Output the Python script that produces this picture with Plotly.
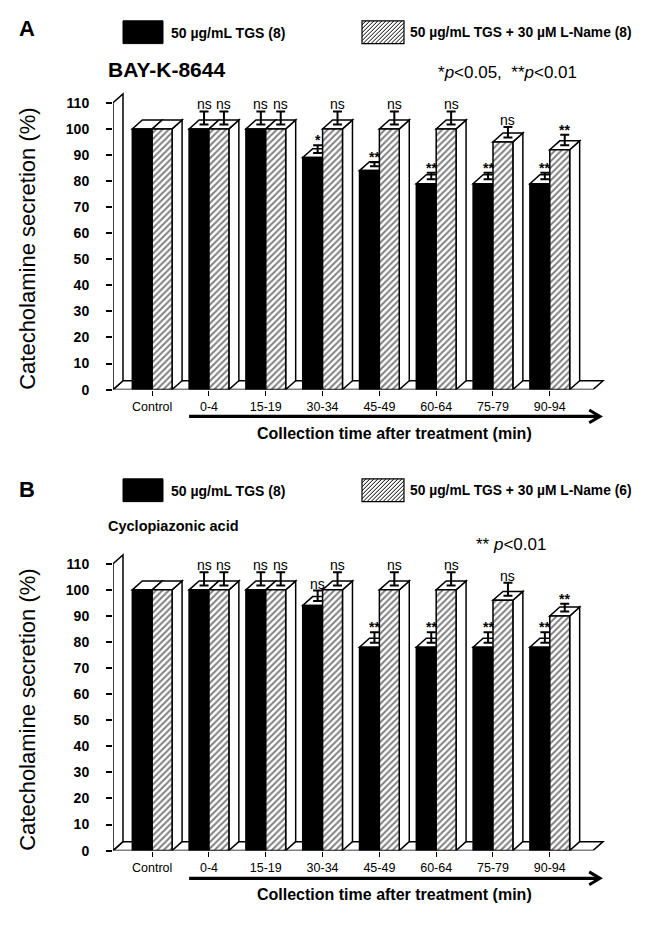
import plotly.graph_objects as go

# ---------------- data ----------------
categories = ["Control", "0-4", "15-19", "30-34", "45-49", "60-64", "75-79", "90-94"]

a_tgs = [100, 100, 100, 89, 84, 79, 79, 79]
a_tgs_err = [0, 5, 5, 3, 1.5, 2.5, 2.5, 2.5]
a_tgs_sig = ["", "ns", "ns", "*", "**", "**", "**", "**"]
a_lname = [100, 100, 100, 100, 100, 100, 95, 92]
a_lname_err = [0, 5, 5, 5, 5, 5, 4, 4]
a_lname_sig = ["", "ns", "ns", "ns", "ns", "ns", "ns", "**"]

b_tgs = [100, 100, 100, 94, 78, 78, 78, 78]
b_tgs_err = [0, 5, 5, 4, 4, 4, 4, 4]
b_tgs_sig = ["", "ns", "ns", "ns", "**", "**", "**", "**"]
b_lname = [100, 100, 100, 100, 100, 100, 96, 90]
b_lname_err = [0, 5, 5, 5, 5, 5, 5, 3]
b_lname_sig = ["", "ns", "ns", "ns", "ns", "ns", "ns", "**"]

yticks = [0, 10, 20, 30, 40, 50, 60, 70, 80, 90, 100, 110]

legend_tgs = ["50 µg/mL TGS (8)", "50 µg/mL TGS (8)"]
legend_lname = ["50 µg/mL TGS + 30 µM L-Name (8)", "50 µg/mL TGS + 30 µM L-Name (6)"]
panel_titles = ["BAY-K-8644", "Cyclopiazonic acid"]
panel_notes = ["*<i>p</i><0.05,  **<i>p</i><0.01", "** <i>p</i><0.01"]
panel_letters = ["A", "B"]
ytitle = "Catecholamine secretion (%)"
xtitle = "Collection time after treatment (min)"

# ---------------- geometry / style ----------------
W, H = 649, 927
FONT = "Liberation Sans, Arial, Helvetica, sans-serif"
X_LO, X_HI = -0.69, 7.98
PXX = 56.8                      # px per category unit
X_LEFT_PX = 113
X_RIGHT_PX = X_LEFT_PX + (X_HI - X_LO) * PXX
Y_HI = 115
PXY = 2.63                      # px per y unit
DX = 10 / PXX                   # 3-D depth in x units
DY = 9 / PXY                    # 3-D depth in y units
BW = 0.35                       # bar width
FLOOR_END = X_LO + (593 - X_LEFT_PX) / PXX

panels = [
    dict(zero_px=393, tgs=a_tgs, tgs_err=a_tgs_err, tgs_sig=a_tgs_sig,
         ln=a_lname, ln_err=a_lname_err, ln_sig=a_lname_sig,
         leg_y=33, title_y=70, note_y=73, note_x=436, letter_y=29, arrow_y=420, xt_y=437,
         ytitle_y=251),
    dict(zero_px=858, tgs=b_tgs, tgs_err=b_tgs_err, tgs_sig=b_tgs_sig,
         ln=b_lname, ln_err=b_lname_err, ln_sig=b_lname_sig,
         leg_y=495, title_y=531, note_y=549, note_x=474, letter_y=494, arrow_y=886, xt_y=902,
         ytitle_y=716),
]


def px2x(px):
    return px / W


def px2y(py):
    return 1 - py / H


fig = go.Figure()
shapes = []
annotations = []
line_style = dict(color="black", width=1.5)

for k, p in enumerate(panels):
    xa = "x" if k == 0 else "x2"
    ya = "y" if k == 0 else "y2"
    xs = [i for i in range(len(categories))]

    # bars
    fig.add_trace(go.Bar(x=xs, y=p["tgs"], xaxis=xa, yaxis=ya, width=BW, offset=-BW,
                         marker=dict(color="black", line=dict(color="black", width=1.5)),
                         showlegend=False, hoverinfo="skip"))
    fig.add_trace(go.Bar(x=xs, y=p["ln"], xaxis=xa, yaxis=ya, width=BW, offset=0,
                         marker=dict(color="white", line=dict(color="black", width=1.5),
                                     pattern=dict(shape="/", fgcolor="black", bgcolor="white",
                                                  size=4.5, solidity=0.45)),
                         showlegend=False, hoverinfo="skip"))

    # error bars at the centre of the top faces
    for vals, errs, off in ((p["tgs"], p["tgs_err"], -BW / 2), (p["ln"], p["ln_err"], BW / 2)):
        ex = [i + off + DX / 2 for i in xs[1:]]
        ey = [v + DY / 2 for v in vals[1:]]
        fig.add_trace(go.Scatter(x=ex, y=ey, xaxis=xa, yaxis=ya, mode="markers",
                                 marker=dict(size=1, color="rgba(0,0,0,0)"),
                                 error_y=dict(type="data", symmetric=False, array=errs[1:],
                                              arrayminus=[0] * (len(xs) - 1),
                                              width=4.5, thickness=2, color="black"),
                                 showlegend=False, hoverinfo="skip"))

    # significance labels
    for vals, errs, sigs, off in ((p["tgs"], p["tgs_err"], p["tgs_sig"], -BW / 2),
                                  (p["ln"], p["ln_err"], p["ln_sig"], BW / 2)):
        for i in xs[1:]:
            is_ns = sigs[i] == "ns"
            annotations.append(dict(x=i + off + DX / 2, y=vals[i] + DY / 2 + errs[i],
                                    xref=xa, yref=ya, text=sigs[i], showarrow=False,
                                    yanchor="bottom", yshift=-3 if is_ns else -5,
                                    font=dict(family=FONT, size=14,
                                              color="black",
                                              weight="normal" if is_ns else "bold")))

    # 3-D floor and back wall
    shapes.append(dict(type="path", xref=xa, yref=ya, layer="below",
                       path=f"M {X_LO},0 L {FLOOR_END},0 L {FLOOR_END + DX},{DY} L {X_LO + DX},{DY} Z",
                       fillcolor="white", line=line_style))
    shapes.append(dict(type="path", xref=xa, yref=ya, layer="below",
                       path=f"M {X_LO},0 L {X_LO},110 L {X_LO + DX},{110 + DY} L {X_LO + DX},{DY} Z",
                       fillcolor="white", line=line_style))

    # 3-D top and side faces of bars
    for i in xs:
        vb, vh = p["tgs"][i], p["ln"][i]
        b0, b1 = i - BW, i
        h0, h1 = i, i + BW
        shapes.append(dict(type="path", xref=xa, yref=ya, layer="below",
                           path=f"M {h1},0 L {h1},{vh} L {h1 + DX},{vh + DY} L {h1 + DX},{DY} Z",
                           fillcolor="white", line=line_style))
        shapes.append(dict(type="path", xref=xa, yref=ya, layer="below",
                           path=f"M {b0},{vb} L {b1},{vb} L {b1 + DX},{vb + DY} L {b0 + DX},{vb + DY} Z",
                           fillcolor="white", line=line_style))
        shapes.append(dict(type="path", xref=xa, yref=ya, layer="below",
                           path=f"M {h0},{vh} L {h1},{vh} L {h1 + DX},{vh + DY} L {h0 + DX},{vh + DY} Z",
                           fillcolor="white", line=line_style))

    # arrow under time categories
    ay = px2y(p["arrow_y"])
    tip = X_LO + (600 - X_LEFT_PX) / PXX
    shapes.append(dict(type="line", xref=xa, yref="paper", x0=1 - BW, x1=tip - 0.03, y0=ay, y1=ay,
                       line=dict(color="black", width=3.4)))
    hy = 6.5 / H
    shapes.append(dict(type="path", xref=xa, yref="paper",
                       path=f"M {tip - 0.19},{ay + hy} L {tip},{ay} L {tip - 0.19},{ay - hy}",
                       line=dict(color="black", width=3)))

    # legend boxes
    ly = p["leg_y"]
    by0, by1 = ly - 12, ly + 11
    shapes.append(dict(type="rect", xref="paper", yref="paper",
                       x0=px2x(123), x1=px2x(163), y0=px2y(by1), y1=px2y(by0),
                       fillcolor="black", line=dict(color="black", width=1)))
    hx0, hx1 = 362, 404
    shapes.append(dict(type="rect", xref="paper", yref="paper",
                       x0=px2x(hx0), x1=px2x(hx1), y0=px2y(by1), y1=px2y(by0),
                       fillcolor="white", line=dict(color="black", width=1.2)))
    w, h = hx1 - hx0, by1 - by0
    segs = []
    c = -h
    while c < w:
        t0, t1 = max(0, -c), min(h, w - c)
        if t0 < t1:
            segs.append(f"M {px2x(hx0 + c + t0)},{px2y(by1 - t0)} L {px2x(hx0 + c + t1)},{px2y(by1 - t1)}")
        c += 4
    shapes.append(dict(type="path", xref="paper", yref="paper", path=" ".join(segs),
                       line=dict(color="black", width=1)))
    annotations.append(dict(x=px2x(169), y=px2y(ly), xref="paper", yref="paper",
                            text=legend_tgs[k], showarrow=False, xanchor="left", yanchor="middle",
                            font=dict(family=FONT, size=14, color="black", weight="bold")))
    annotations.append(dict(x=px2x(408), y=px2y(ly), xref="paper", yref="paper",
                            text=legend_lname[k], showarrow=False, xanchor="left", yanchor="middle",
                            font=dict(family=FONT, size=13.8, color="black", weight="bold")))

    # texts
    annotations.append(dict(x=px2x(17), y=px2y(p["letter_y"]), xref="paper", yref="paper",
                            text=panel_letters[k], showarrow=False, xanchor="left", yanchor="middle",
                            font=dict(family=FONT, size=22, color="black", weight="bold")))
    annotations.append(dict(x=px2x(106), y=px2y(p["title_y"]), xref="paper", yref="paper",
                            text=panel_titles[k], showarrow=False, xanchor="left", yanchor="middle",
                            font=dict(family=FONT, size=21 if k == 0 else 14.5, color="black", weight="bold")))
    annotations.append(dict(x=px2x(p["note_x"]), y=px2y(p["note_y"]), xref="paper", yref="paper",
                            text=panel_notes[k], showarrow=False, xanchor="left", yanchor="middle",
                            font=dict(family=FONT, size=17, color="black")))
    annotations.append(dict(x=px2x(28), y=px2y(p["ytitle_y"]), xref="paper", yref="paper",
                            text=ytitle, showarrow=False, textangle=-90,
                            xanchor="center", yanchor="middle",
                            font=dict(family=FONT, size=22, color="black")))
    annotations.append(dict(x=px2x(394), y=px2y(p["xt_y"]), xref="paper", yref="paper",
                            text=xtitle, showarrow=False, xanchor="center", yanchor="middle",
                            font=dict(family=FONT, size=16, color="black", weight="bold")))

# ---------------- axes ----------------
def xaxis_cfg():
    return dict(range=[X_LO, X_HI], domain=[X_LEFT_PX / W, X_RIGHT_PX / W],
                tickmode="array", tickvals=list(range(len(categories))), ticktext=categories,
                ticks="outside", ticklen=5, tickwidth=1.2, tickcolor="black",
                showline=False, showgrid=False, zeroline=False,
                tickfont=dict(family=FONT, size=12.5, color="black"), fixedrange=True)


def yaxis_cfg(zero_px, anchor):
    top_px = zero_px - Y_HI * PXY
    return dict(range=[0, Y_HI], domain=[1 - zero_px / H, 1 - top_px / H], anchor=anchor,
                tickmode="array", tickvals=yticks, ticks="outside", ticklen=6, tickwidth=1.5,
                tickcolor="black", showline=False, showgrid=False, zeroline=False,
                ticklabelstandoff=14,
                tickfont=dict(family=FONT, size=14, color="black", weight="bold"), fixedrange=True)


fig.update_layout(
    width=W, height=H, margin=dict(l=0, r=0, t=0, b=0),
    paper_bgcolor="white", plot_bgcolor="rgba(0,0,0,0)",
    barmode="overlay",
    xaxis=dict(**xaxis_cfg(), anchor="y"),
    yaxis=yaxis_cfg(panels[0]["zero_px"], "x"),
    xaxis2=dict(**xaxis_cfg(), anchor="y2"),
    yaxis2=yaxis_cfg(panels[1]["zero_px"], "x2"),
    shapes=shapes, annotations=annotations, showlegend=False,
)

fig.write_html("out.html", config={"displayModeBar": False},
               post_script="document.body.style.margin='0px';")
